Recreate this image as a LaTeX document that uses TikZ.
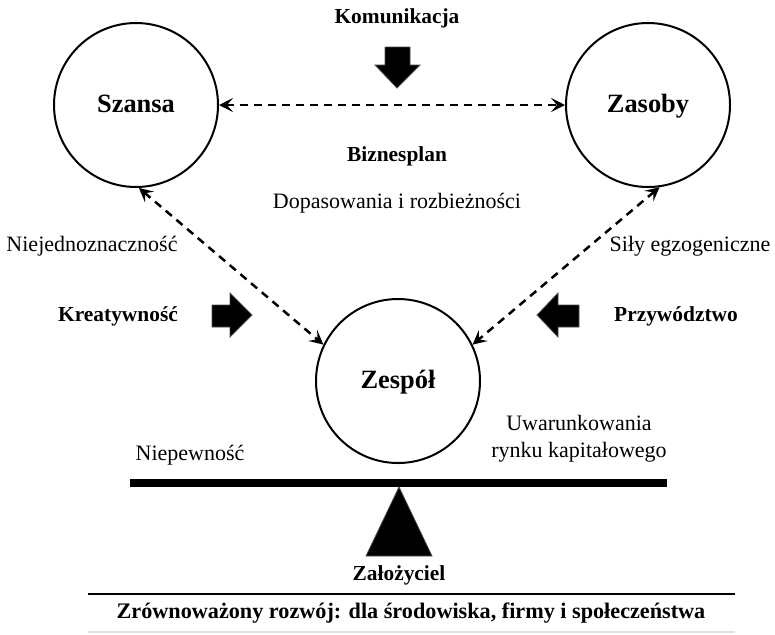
\documentclass[tikz,border=0pt]{standalone}
\usepackage{fontspec}
\setmainfont{Liberation Serif}
\usetikzlibrary{arrows.meta}
\begin{document}
\begin{tikzpicture}[x=0.5pt,y=-0.5pt,
  bubble/.style={draw,line width=1pt,circle,minimum size=82pt,inner sep=0pt,
    text height=8pt,text depth=0.5pt,
    font=\fontsize{13.2}{15}\selectfont\bfseries},
  lbl/.style={font=\fontsize{11}{13.5}\selectfont,inner sep=0pt},
  blbl/.style={font=\fontsize{10.7}{13}\selectfont\bfseries,inner sep=0pt},
  link/.style={line width=1.25pt,dash pattern=on 4pt off 3pt,
    {Stealth[length=7pt,width=7pt,inset=3pt]}-{Stealth[length=7pt,width=7pt,inset=3pt]}},
  bigarrow/.style={fill=black,draw=black!70,line width=0.4pt,line join=miter}]
\useasboundingbox (0,0) rectangle (775,634);

% the three resources
\node[bubble] (szansa) at (136,105) {Szansa};
\node[bubble] (zasoby) at (648,105) {Zasoby};
\node[bubble] (zespol) at (398,381) {Zespół};

% dashed two-way links between them
\draw[link] (szansa.east) -- (zasoby.west);
\draw[link] (szansa.-88) -- (zespol.154);
\draw[link] (zasoby.-82) -- (zespol.26);

% block arrows
\fill[bigarrow] (385,47) -- (410,47) -- (410,65) -- (420,65) -- (397,88)
  -- (375,65) -- (385,65) -- cycle;
\fill[bigarrow] (212,305) -- (230,305) -- (230,293) -- (252,315) -- (230,337)
  -- (230,327) -- (212,327) -- cycle;
\fill[bigarrow] (579,305) -- (558,305) -- (558,293) -- (537,315) -- (558,337)
  -- (558,327) -- (579,327) -- cycle;

% labels
\node[blbl] (kom) at (397,18) {Komunikacja};
\node[blbl] (biz) at (397,156) {Biznesplan};
\node[lbl] (dop) at (397,203) {Dopasowania i rozbieżności};
\node[lbl] (niej) at (92,246) {Niejednoznaczność};
\node[lbl] (sily) at (690,246) {Siły egzogeniczne};
\node[blbl] (kre) at (118,316) {Kreatywność};
\node[blbl] (prz) at (676,316) {Przywództwo};
\node[lbl] (niep) at (190,455) {Niepewność};
\node[lbl,align=center] (uwar) at (579,439) {Uwarunkowania\\rynku kapitałowego};

% balance beam on its fulcrum
\coordinate (beamL) at (130,483);
\coordinate (beamR) at (667,483);
\draw[line width=3.6pt] (beamL) -- (beamR);
\fill[draw=black!70,line width=0.4pt] (399,487) -- (432,556) -- (366,556) -- cycle;
\node[blbl] (zal) at (399,575) {Założyciel};

% closing banner
\coordinate (banL) at (88,594);
\coordinate (banR) at (735,594);
\draw[line width=1.1pt] (banL) -- (banR);
\draw[black!12,line width=0.6pt] (88,632) -- (735,632);
\node[font=\fontsize{11.1}{13}\selectfont\bfseries,inner sep=0pt] (roz) at (411,613)
  {Zrównoważony rozwój: dla środowiska, firmy i społeczeństwa};
\end{tikzpicture}
\end{document}
